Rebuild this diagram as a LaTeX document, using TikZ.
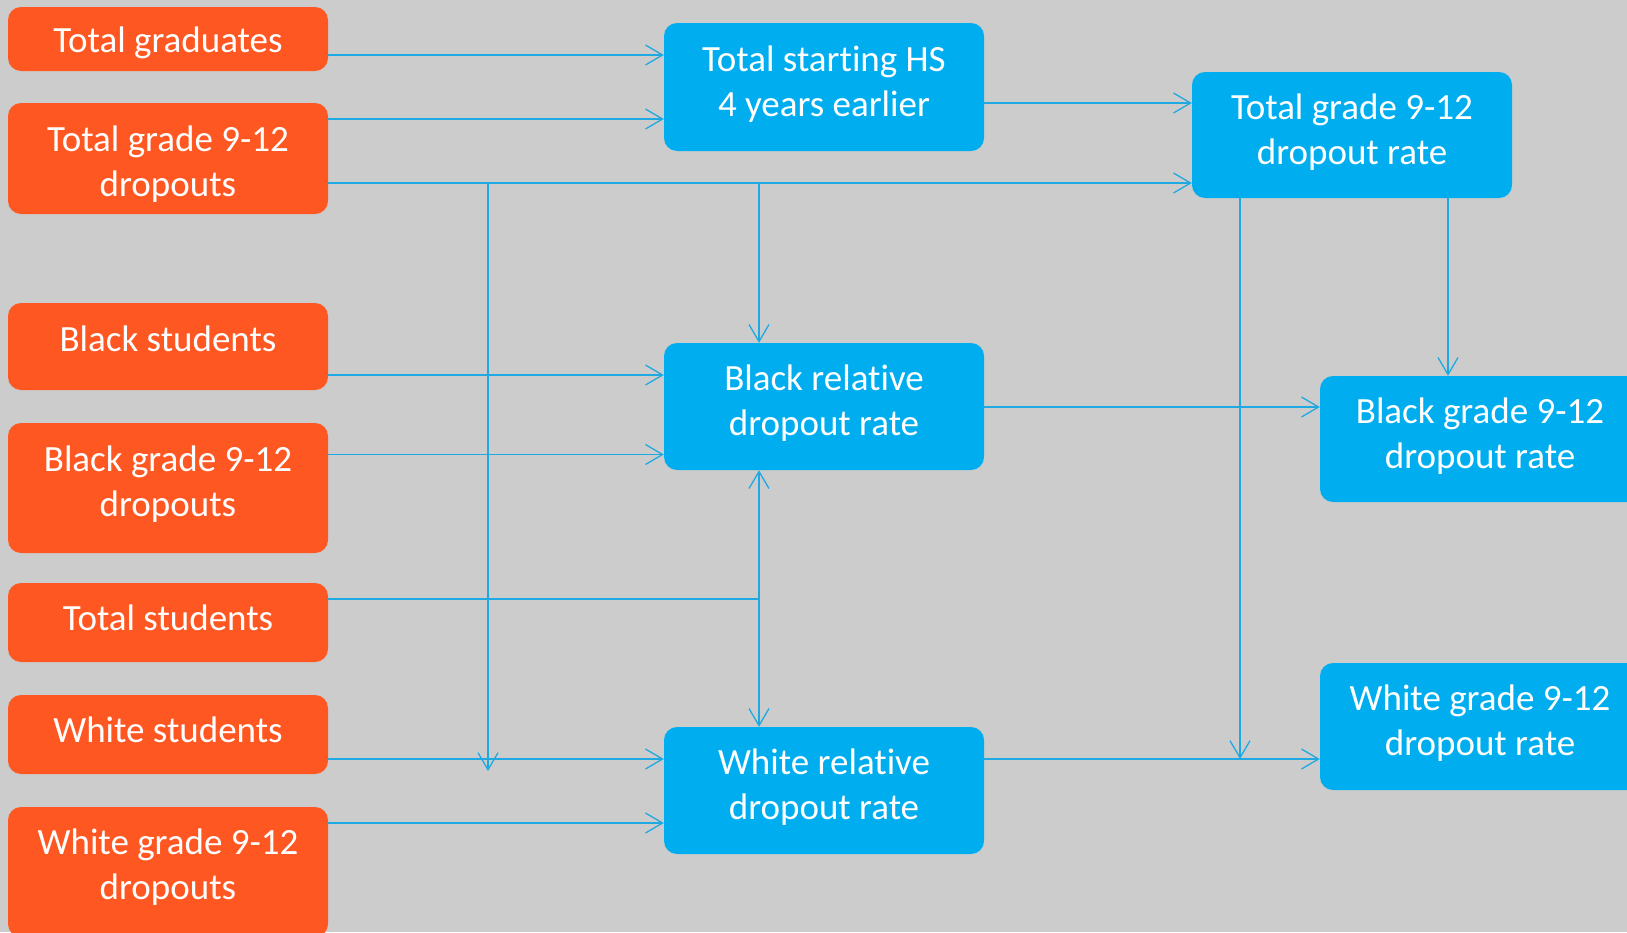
\documentclass[tikz,border=0pt]{standalone}
\usepackage{fontspec}
\setmainfont{Carlito}[RawFeature={-liga;-clig;-calt;-dlig}]
\usetikzlibrary{arrows.meta}
\definecolor{bg}{HTML}{CCCCCC}
\definecolor{orng}{HTML}{FF5722}
\definecolor{blu}{HTML}{00ADEF}
\definecolor{lnc}{HTML}{1FA9E3}
\begin{document}
\begin{tikzpicture}[x=1pt,y=-1pt,
  box/.style={rounded corners=13pt, minimum width=320pt, inner sep=0pt},
  lbl/.style={text=white, align=center, font=\fontsize{37}{45}\selectfont, inner sep=0pt},
  obox/.style={box, fill=orng},
  bbox/.style={box, fill=blu},
  conn/.style={draw=lnc, line width=1.3pt},
  arr/.style={conn, -{Straight Barb[length=17pt,width=20pt]}}]
\clip (0,0) rectangle (1627,932);
\fill[bg] (0,0) rectangle (1627,932);
% orange inputs
\node[obox, minimum height=64pt,  label={[lbl,yshift=-4pt]center:Total graduates}] (og1) at (168,39) {};
\node[obox, minimum height=111pt, label={[lbl,yshift=-6pt]center:Total grade 9-12\\dropouts}] (og2) at (168,158.5) {};
\node[obox, minimum height=87pt,  label={[lbl,yshift=8pt]center:Black students}] (og3) at (168,346.5) {};
\node[obox, minimum height=130pt, label={[lbl,yshift=4pt]center:Black grade 9-12\\dropouts}] (og4) at (168,488) {};
\node[obox, minimum height=79pt,  label={[lbl,yshift=5pt]center:Total students}] (og5) at (168,622.5) {};
\node[obox, minimum height=79pt,  label={[lbl,yshift=5pt]center:White students}] (og6) at (168,734.5) {};
\node[obox, minimum height=130pt, label={[lbl,yshift=5pt]center:White grade 9-12\\dropouts}] (og7) at (168,872) {};
% blue middle
\node[bbox, minimum height=128pt, label={[lbl,yshift=3pt]center:Total starting HS\\4 years earlier}] (b1) at (824,87) {};
\node[bbox, minimum height=127pt, label={[lbl,yshift=3pt]center:Black relative\\dropout rate}] (b2) at (824,406.5) {};
\node[bbox, minimum height=127pt, label={[lbl,yshift=3pt]center:White relative\\dropout rate}] (b3) at (824,790.5) {};
% blue right
\node[bbox, minimum height=126pt, label={[lbl,yshift=3pt]center:Total grade 9-12\\dropout rate}] (r1) at (1352,135) {};
\node[bbox, minimum height=126pt, label={[lbl,yshift=3pt]center:Black grade 9-12\\dropout rate}] (r2) at (1480,439) {};
\node[bbox, minimum height=127pt, label={[lbl,yshift=3pt]center:White grade 9-12\\dropout rate}] (r3) at (1480,726.5) {};
% levels
\coordinate (yA) at (0,55);
\coordinate (yB) at (0,119);
\coordinate (yC) at (0,183);
\coordinate (yD) at (0,103);
\coordinate (yE) at (0,375);
\coordinate (yF) at (0,454.5);
\coordinate (yG) at (0,599);
\coordinate (yH) at (0,759);
\coordinate (yI) at (0,823);
\coordinate (yJ) at (0,407);
\coordinate (yK) at (0,771);
\coordinate (xP) at (488,0);
\coordinate (xQ) at (759,0);
\coordinate (xR) at (1240,0);
\coordinate (xS) at (1448,0);
% connectors
\draw[arr] (og1.east |- yA) -- (b1.west |- yA);
\draw[arr] (og2.east |- yB) -- (b1.west |- yB);
\draw[arr] (og2.east |- yC) -- (r1.west |- yC);
\draw[arr] (xP |- yC) -- (xP |- yK);
\draw[arr] (xQ |- yC) -- (b2.north -| xQ);
\draw[arr] (b1.east |- yD) -- (r1.west |- yD);
\draw[arr] (og3.east |- yE) -- (b2.west |- yE);
\draw[arr] (og4.east |- yF) -- (b2.west |- yF);
\draw[conn] (og5.east |- yG) -- (xQ |- yG);
\draw[arr] (xQ |- yG) -- (b2.south -| xQ);
\draw[arr] (xQ |- yG) -- (b3.north -| xQ);
\draw[arr] (og6.east |- yH) -- (b3.west |- yH);
\draw[arr] (og7.east |- yI) -- (b3.west |- yI);
\draw[arr] (b2.east |- yJ) -- (r2.west |- yJ);
\draw[arr] (b3.east |- yH) -- (r3.west |- yH);
\draw[arr] (r1.south -| xR) -- (xR |- yH);
\draw[arr] (r1.south -| xS) -- (r2.north -| xS);
\end{tikzpicture}
\end{document}
